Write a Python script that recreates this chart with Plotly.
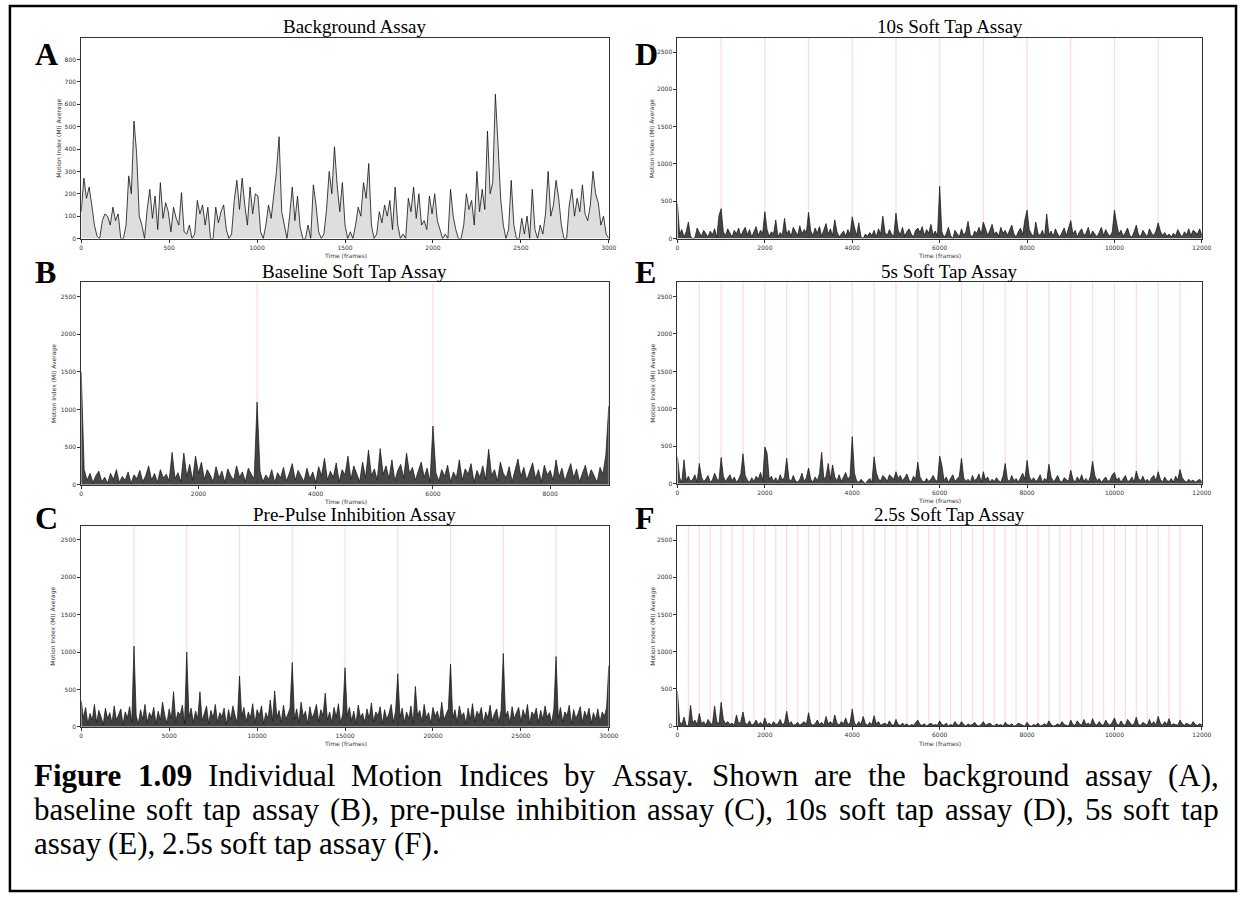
import numpy as np
import plotly.graph_objects as go

# ---------------- data ----------------
# A: Background assay, one value every 15 frames, 0..3000
step_A = 15
mi_A = [120, 270, 180, 230, 150, 60, 10, 0, 80, 110,
        100, 60, 140, 80, 110, 0, 0, 60, 280, 200,
        525, 380, 100, 60, 0, 130, 220, 90, 190, 40,
        250, 90, 160, 120, 30, 140, 90, 60, 205, 30,
        20, 60, 0, 20, 170, 110, 150, 60, 140, 0,
        0, 140, 70, 120, 150, 40, 0, 20, 170, 260,
        130, 270, 150, 60, 230, 110, 200, 190, 30, 0,
        60, 150, 90, 200, 300, 455, 120, 60, 0, 100,
        230, 80, 190, 50, 0, 0, 60, 0, 240, 150,
        30, 0, 20, 130, 300, 200, 410, 240, 120, 250,
        60, 0, 30, 0, 60, 140, 100, 250, 180, 335,
        60, 0, 20, 120, 70, 150, 100, 170, 40, 230,
        60, 0, 20, 0, 180, 120, 230, 90, 200, 60,
        80, 40, 190, 110, 200, 80, 40, 0, 20, 0,
        220, 100, 40, 0, 0, 60, 200, 130, 170, 60,
        300, 120, 220, 130, 480, 200, 250, 645, 420, 180,
        60, 0, 40, 260, 60, 0, 0, 90, 20, 100,
        0, 220, 40, 0, 60, 20, 110, 300, 100, 150,
        260, 180, 60, 0, 0, 150, 220, 100, 180, 120,
        240, 110, 80, 150, 300, 200, 160, 60, 100, 20,
        0]

# B: Baseline soft tap assay, one value every 50 frames, 0..9000
step_B = 50
mi_B = [1500, 200, 60, 150, 30, 120, 180, 40, 100, 20,
        150, 70, 200, 30, 110, 60, 170, 20, 130, 80,
        190, 40, 120, 250, 60, 150, 30, 200, 90, 140,
        50, 430, 80, 160, 40, 420, 110, 270, 60, 380,
        150, 300, 70, 200, 130, 40, 240, 90, 180, 30,
        210, 120, 60, 250, 100, 170, 40, 220, 140, 80,
        1100, 180, 40, 130, 70, 200, 30, 160, 90, 230,
        50, 150, 280, 60, 190, 110, 40, 220, 80, 170,
        30, 240, 120, 350, 60, 180, 100, 290, 40, 200,
        130, 380, 70, 250, 150, 40, 300, 90, 460, 120,
        210, 60, 480, 140, 250, 80, 330, 50, 190, 270,
        90, 420, 150, 230, 60, 180, 300, 100, 220, 40,
        780, 160, 50, 200, 110, 260, 40, 170, 90, 330,
        60, 210, 140, 280, 30, 190, 100, 250, 70, 470,
        120, 200, 50, 300, 150, 90, 240, 40, 180, 340,
        110, 230, 60, 170, 290, 80, 200, 40, 260, 130,
        190, 60, 330, 100, 220, 50, 170, 280, 90, 210,
        40, 160, 260, 80, 200, 120, 30, 230, 140, 400,
        1050]

# C: Pre-pulse inhibition assay, one value every 125 frames, 0..30000
step_C = 125
mi_C = [350, 120, 260, 40, 180, 90, 300, 60, 220, 140, 30, 250, 110, 190, 50, 280, 90, 160, 240, 30, 200, 120, 270, 60,
        1080, 150, 40, 230, 100, 300, 60, 190, 130, 260, 40, 210, 90, 330, 150, 50, 240, 110, 470, 70, 200, 160, 290, 40,
        1000, 130, 250, 60, 210, 110, 470, 80, 180, 280, 40, 220, 120, 300, 60, 190, 140, 250, 30, 230, 100, 280, 150, 50,
        680, 140, 260, 70, 200, 120, 310, 50, 230, 150, 280, 40, 190, 110, 360, 80, 480, 130, 220, 60, 290, 100, 170, 250,
        860, 100, 240, 60, 330, 140, 210, 40, 270, 120, 190, 300, 70, 230, 150, 450, 90, 200, 60, 260, 130, 310, 50, 180,
        790, 150, 260, 80, 210, 40, 290, 130, 180, 60, 240, 110, 320, 70, 200, 150, 270, 40, 230, 100, 180, 300, 60, 210,
        710, 130, 250, 60, 200, 110, 280, 40, 540, 150, 220, 70, 300, 120, 190, 50, 260, 140, 210, 80, 330, 100, 170, 240,
        840, 120, 230, 60, 280, 140, 190, 40, 250, 100, 310, 70, 210, 150, 260, 50, 200, 120, 290, 80, 180, 240, 60, 220,
        980, 140, 210, 50, 270, 110, 190, 260, 70, 230, 130, 300, 40, 200, 150, 250, 60, 220, 100, 280, 130, 190, 50, 240,
        940, 120, 260, 70, 200, 150, 290, 40, 230, 110, 180, 270, 60, 210, 130, 250, 50, 190, 100, 240, 70, 200, 140, 260,
        820]

# D: 10s soft tap assay, one value every 50 frames, 0..12000
step_D = 50
mi_D = [470, 60, 120, 20, 90, 220, 30, 0, 10, 140, 80, 30, 110, 60, 20, 100, 50, 130, 10, 310,
        400, 90, 40, 130, 70, 20, 110, 60, 140, 30, 100, 150, 50, 120, 20, 90, 160, 40, 110, 70,
        360, 120, 30, 90, 60, 250, 20, 80, 40, 270, 60, 110, 30, 150, 90, 40, 170, 60, 120, 80,
        350, 100, 40, 140, 70, 160, 30, 110, 200, 60, 130, 40, 250, 90, 20, 60, 100, 30, 120, 50,
        290, 150, 40, 210, 20, 0, 60, 30, 80, 40, 110, 20, 130, 60, 300, 80, 40, 120, 60, 30,
        340, 110, 50, 150, 30, 90, 130, 60, 20, 110, 140, 80, 160, 40, 120, 70, 190, 50, 100, 30,
        700, 90, 20, 60, 150, 40, 0, 110, 60, 20, 130, 40, 90, 230, 50, 20, 100, 70, 150, 60,
        220, 130, 40, 110, 190, 60, 90, 30, 150, 70, 110, 40, 120, 180, 60, 20, 90, 140, 50, 250,
        380, 120, 60, 30, 220, 70, 40, 110, 20, 330, 50, 100, 30, 130, 60, 20, 80, 140, 40, 160,
        240, 60, 110, 20, 90, 130, 40, 70, 150, 30, 100, 60, 20, 80, 150, 40, 120, 60, 30, 90,
        380, 200, 60, 110, 30, 80, 140, 40, 20, 90, 180, 50, 30, 110, 60, 20, 130, 70, 40, 100,
        210, 100, 40, 80, 30, 60, 20, 70, 40, 120, 60, 20, 90, 50, 130, 40, 110, 80, 60, 130,
        40]

# E: 5s soft tap assay, one value every 50 frames, 0..12000
step_E = 50
mi_E = [360, 80, 20, 320, 40, 100, 30, 60, 120, 20, 270, 90, 30, 60, 110, 20, 50, 140, 70, 40,
        350, 100, 30, 80, 120, 40, 90, 20, 60, 130, 400, 110, 50, 20, 80, 30, 100, 60, 150, 40,
        490, 410, 60, 100, 30, 80, 20, 120, 50, 90, 340, 70, 30, 110, 40, 20, 60, 140, 30, 80,
        210, 60, 20, 90, 40, 130, 420, 60, 100, 270, 60, 250, 90, 40, 120, 30, 80, 150, 60, 100,
        630, 140, 40, 20, 60, 30, 0, 40, 70, 20, 360, 150, 60, 40, 110, 80, 30, 120, 90, 60,
        160, 70, 110, 40, 80, 130, 50, 20, 100, 60, 290, 90, 40, 20, 70, 30, 60, 110, 50, 30,
        370, 250, 40, 90, 20, 70, 120, 30, 60, 100, 340, 80, 30, 60, 20, 110, 40, 70, 130, 20,
        160, 50, 90, 20, 60, 30, 80, 40, 20, 100, 270, 60, 30, 110, 40, 70, 20, 90, 140, 60,
        310, 100, 40, 80, 30, 60, 120, 20, 70, 40, 260, 90, 30, 60, 110, 40, 20, 80, 50, 30,
        180, 60, 20, 90, 40, 120, 30, 70, 20, 100, 300, 110, 40, 70, 20, 60, 90, 30, 50, 120,
        150, 50, 80, 20, 60, 110, 30, 40, 90, 20, 170, 70, 40, 100, 30, 60, 20, 80, 110, 40,
        160, 60, 20, 90, 40, 30, 70, 20, 100, 50, 190, 80, 40, 20, 60, 30, 50, 20, 40, 60,
        30]

# F: 2.5s soft tap assay, one value every 50 frames, 0..12000
step_F = 50
mi_F = [470, 60, 20, 120, 10, 0, 280, 40, 80, 20, 170, 30, 60, 10, 90, 40, 20, 270, 60, 30,
        320, 90, 30, 60, 20, 40, 10, 150, 30, 60, 190, 40, 20, 70, 10, 30, 80, 20, 50, 10,
        110, 20, 40, 10, 60, 20, 30, 90, 20, 40, 200, 30, 60, 10, 20, 50, 10, 30, 60, 20,
        180, 40, 10, 30, 80, 20, 50, 10, 130, 30, 60, 20, 150, 40, 10, 60, 30, 110, 20, 40,
        230, 40, 10, 60, 20, 130, 30, 10, 50, 20, 140, 30, 60, 10, 20, 40, 10, 70, 20, 10,
        90, 20, 10, 40, 10, 30, 0, 20, 10, 50, 80, 20, 10, 30, 0, 20, 40, 10, 20, 10,
        70, 20, 10, 40, 0, 20, 10, 60, 20, 10, 60, 20, 0, 30, 10, 20, 50, 10, 0, 20,
        60, 10, 20, 40, 10, 0, 30, 10, 20, 0, 50, 20, 10, 30, 0, 10, 40, 20, 10, 0,
        50, 10, 0, 20, 10, 40, 0, 10, 30, 10, 70, 20, 0, 10, 30, 10, 60, 20, 10, 0,
        80, 20, 10, 70, 30, 10, 90, 20, 40, 10, 100, 30, 10, 60, 20, 10, 80, 30, 10, 50,
        110, 30, 10, 70, 20, 10, 90, 40, 10, 30, 120, 20, 10, 50, 30, 10, 90, 20, 60, 10,
        130, 40, 10, 60, 20, 100, 10, 30, 20, 10, 80, 30, 10, 40, 20, 10, 60, 20, 10, 30,
        20]

# tap (stimulus) frames
taps_B = [3000, 6000, 9000]
taps_C = [3000, 6000, 9000, 12000, 15000, 18000, 21000, 24000, 27000]
taps_D = [1000, 2000, 3000, 4000, 5000, 6000, 7000, 8000, 9000, 10000, 11000]
taps_E = [500, 1000, 1500, 2000, 2500, 3000, 3500, 4000, 4500, 5000, 5500, 6000,
          6500, 7000, 7500, 8000, 8500, 9000, 9500, 10000, 10500, 11000, 11500]
taps_F = [250, 500, 750, 1000, 1250, 1500, 1750, 2000, 2250, 2500, 2750, 3000,
          3250, 3500, 3750, 4000, 4250, 4500, 4750, 5000, 5250, 5500, 5750, 6000,
          6250, 6500, 6750, 7000, 7250, 7500, 7750, 8000, 8250, 8500, 8750, 9000,
          9250, 9500, 9750, 10000, 10250, 10500, 10750, 11000, 11250, 11500]

titles = ["Background Assay", "Baseline Soft Tap Assay", "Pre-Pulse Inhibition Assay",
          "10s Soft Tap Assay", "5s Soft Tap Assay", "2.5s Soft Tap Assay"]
letters = ["A", "B", "C", "D", "E", "F"]
x_label = "Time (frames)"
y_label = "Motion Index (MI) Average"

caption_lines = [
    [("Figure", True), ("1.09", True), ("Individual", False), ("Motion", False), ("Indices", False),
     ("by", False), ("Assay.", False), ("Shown", False), ("are", False), ("the", False),
     ("background", False), ("assay", False), ("(A),", False)],
    [("baseline", False), ("soft", False), ("tap", False), ("assay", False), ("(B),", False),
     ("pre-pulse", False), ("inhibition", False), ("assay", False), ("(C),", False), ("10s", False),
     ("soft", False), ("tap", False), ("assay", False), ("(D),", False), ("5s", False),
     ("soft", False), ("tap", False)],
    [("assay", False), ("(E),", False), ("2.5s", False), ("soft", False), ("tap", False),
     ("assay", False), ("(F).", False)],
]

# ---------------- layout helpers ----------------
W, H = 1249, 901
SERIF = "Liberation Serif, Times New Roman, serif"
SANS = "DejaVu Sans, Arial, sans-serif"
PINK = "rgba(255,170,215,0.45)"


def px(x):
    return x / W


def py(y):
    return 1 - y / H


panels = [
    dict(v=mi_A, s=step_A, t=[], xmax=3000, xd=500, ymax=897, yd=100, l=80, r=612.7, top=38, bot=239.3,
         fill="rgba(0,0,0,0.13)", lw=0.8),
    dict(v=mi_B, s=step_B, t=taps_B, xmax=9000, xd=2000, ymax=2690, yd=500, l=80, r=612.7, top=283.3, bot=486.3,
         fill="rgba(0,0,0,0.72)", lw=0.7),
    dict(v=mi_C, s=step_C, t=taps_C, xmax=30000, xd=5000, ymax=2690, yd=500, l=80, r=612.7, top=527.3, bot=729.3,
         fill="rgba(0,0,0,0.75)", lw=0.7),
    dict(v=mi_D, s=step_D, t=taps_D, xmax=12000, xd=2000, ymax=2690, yd=500, l=682, r=1211.5, top=38, bot=239.3,
         fill="rgba(0,0,0,0.72)", lw=0.7),
    dict(v=mi_E, s=step_E, t=taps_E, xmax=12000, xd=2000, ymax=2690, yd=500, l=682, r=1211.5, top=283.3, bot=485.3,
         fill="rgba(0,0,0,0.72)", lw=0.7),
    dict(v=mi_F, s=step_F, t=taps_F, xmax=12000, xd=2000, ymax=2690, yd=500, l=682, r=1211.5, top=527.8, bot=728.5,
         fill="rgba(0,0,0,0.72)", lw=0.7),
]

fig = go.Figure()
shapes = []
annotations = []
layout = {}

for i, p in enumerate(panels):
    k = "" if i == 0 else str(i + 1)
    xa, ya = "x" + k, "y" + k
    vals = p["v"]
    frames = np.arange(len(vals)) * p["s"]
    fig.add_trace(go.Scatter(x=frames, y=vals, mode="lines",
                             line=dict(color="#111111", width=p["lw"]),
                             fill="tozeroy", fillcolor=p["fill"],
                             xaxis=xa, yaxis=ya, showlegend=False, hoverinfo="skip"))
    axis_common = dict(showline=True, mirror=True, linecolor="#333333", linewidth=1,
                       ticks="outside", ticklen=3, tickwidth=0.8, tickcolor="#333333",
                       tickfont=dict(family=SANS, size=6, color="#333333"),
                       tickformat="d", showgrid=False, zeroline=False)
    layout["xaxis" + k] = dict(axis_common, domain=[px(p["l"]), px(p["r"])],
                               range=[0, p["xmax"]], tick0=0, dtick=p["xd"],
                               anchor=ya)
    layout["yaxis" + k] = dict(axis_common, domain=[py(p["bot"]), py(p["top"])],
                               range=[0, p["ymax"]], tick0=0, dtick=p["yd"],
                               anchor=xa)
    for t in p["t"]:
        shapes.append(dict(type="line", xref=xa, yref=ya + " domain", x0=t, x1=t, y0=0, y1=1,
                           line=dict(color=PINK, width=1.3), layer="below"))
    cx = (p["l"] + p["r"]) / 2
    if p["top"] < 100:
        tb, lb = 33, 65
    elif p["top"] < 400:
        tb, lb = 279, 284
    else:
        tb, lb = 523, 531
    # panel title
    annotations.append(dict(text=titles[i], x=px(cx + 10), y=py(tb - 0.3375 * 19),
                            xref="paper", yref="paper", showarrow=False,
                            xanchor="center", yanchor="middle",
                            font=dict(family=SERIF, size=19, color="black")))
    # panel letter
    lx = 31 if i < 3 else 637
    annotations.append(dict(text="<b>" + letters[i] + "</b>", x=px(lx), y=py(lb - 0.3375 * 32),
                            xref="paper", yref="paper", showarrow=False,
                            xanchor="left", yanchor="middle",
                            font=dict(family=SERIF, size=32, color="black")))
    # axis titles
    annotations.append(dict(text=x_label, x=px(cx), y=py(p["bot"] + 17),
                            xref="paper", yref="paper", showarrow=False,
                            xanchor="center", yanchor="middle",
                            font=dict(family=SANS, size=6, color="#333333")))
    ylx = 58 if i == 0 else (52 if i < 3 else 657)
    annotations.append(dict(text=y_label, x=px(ylx), y=py((p["top"] + p["bot"]) / 2),
                            xref="paper", yref="paper", showarrow=False, textangle=-90,
                            xanchor="center", yanchor="middle",
                            font=dict(family=SANS, size=6, color="#333333")))

# ---------------- caption (justified with Times metrics) ----------------
REG = {' ': 250, '(': 333, ')': 333, ',': 250, '-': 333, '.': 250,
       '0': 500, '1': 500, '2': 500, '3': 500, '4': 500, '5': 500, '6': 500, '7': 500, '8': 500, '9': 500,
       'A': 722, 'B': 667, 'C': 667, 'D': 722, 'E': 611, 'F': 556, 'I': 333, 'M': 889, 'S': 556,
       'a': 444, 'b': 500, 'c': 444, 'd': 500, 'e': 444, 'f': 333, 'g': 500, 'h': 500, 'i': 278,
       'k': 500, 'l': 278, 'm': 778, 'n': 500, 'o': 500, 'p': 500, 'r': 333, 's': 389, 't': 278,
       'u': 500, 'v': 500, 'w': 722, 'y': 500}
BOLD = {'F': 611, 'i': 278, 'g': 500, 'u': 556, 'r': 444, 'e': 444, '1': 500, '.': 250, '0': 500, '9': 500}
CAP_SIZE = 31
cap_x0, cap_x1 = 31, 1227
cap_baselines = [789, 823, 857]


def word_w(w, bold):
    tbl = BOLD if bold else REG
    return sum(tbl.get(c, 500) for c in w) / 1000 * CAP_SIZE


for li, line in enumerate(caption_lines):
    widths = [word_w(w, b) for w, b in line]
    if li < len(caption_lines) - 1:
        gap = (cap_x1 - cap_x0 - sum(widths)) / (len(line) - 1)
    else:
        gap = 0.25 * CAP_SIZE
    xcur = cap_x0
    for (w, b), ww in zip(line, widths):
        annotations.append(dict(text=("<b>%s</b>" % w) if b else w, x=px(xcur - 1),
                                y=py(cap_baselines[li] - 0.3375 * CAP_SIZE),
                                xref="paper", yref="paper", showarrow=False,
                                xanchor="left", yanchor="middle",
                                font=dict(family=SERIF, size=CAP_SIZE, color="black")))
        xcur += ww + gap

# outer frame
shapes.append(dict(type="rect", xref="paper", yref="paper",
                   x0=px(8), x1=px(1246), y0=py(894), y1=py(6),
                   line=dict(color="black", width=2.5), layer="above"))

fig.update_layout(width=W, height=H, margin=dict(l=0, r=0, t=0, b=0),
                  paper_bgcolor="white", plot_bgcolor="white",
                  shapes=shapes, annotations=annotations, **layout)

fig.write_html("out.html")
